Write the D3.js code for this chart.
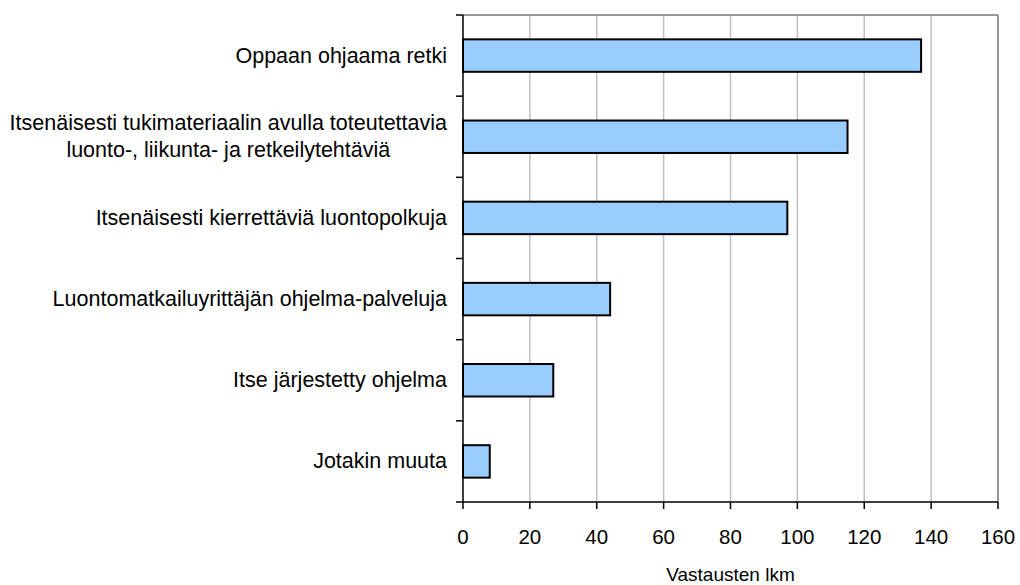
<!DOCTYPE html>
<html>
<head>
<meta charset="utf-8">
<script src="https://cdn.jsdelivr.net/npm/d3@7"></script>
<style>
	body { margin: 0; background: #fff; }
	svg text { font-family: "Liberation Sans", Arial, sans-serif; fill: #000; }
</style>
</head>
<body>
<svg id="chart" width="1020" height="585"></svg>
<script>
const categories = [
	['Oppaan ohjaama retki'],
	['Itsenäisesti tukimateriaalin avulla toteutettavia', 'luonto-, liikunta- ja retkeilytehtäviä'],
	['Itsenäisesti kierrettäviä luontopolkuja'],
	['Luontomatkailuyrittäjän ohjelma-palveluja'],
	['Itse järjestetty ohjelma'],
	['Jotakin muuta'],
]
const values = [137, 115, 97, 44, 27, 8]
const xTicks = [0, 20, 40, 60, 80, 100, 120, 140, 160]
const xTitle = 'Vastausten lkm'

const svg = d3.select('#chart')
const margin = { left: 463, right: 22, top: 15, bottom: 83 }
const width = 1020 - margin.left - margin.right
const height = 585 - margin.top - margin.bottom

const g = svg.append('g').attr('transform', `translate(${margin.left},${margin.top})`)

const x = d3.scaleLinear().domain([0, 160]).range([0, width])
const y = d3.scaleBand().domain(d3.range(categories.length)).range([0, height]).paddingInner(0.6).paddingOuter(0.3)
const yEdges = d3.scaleLinear().domain([0, categories.length]).range([0, height])

// gridlines
g.selectAll('.grid').data(xTicks.slice(1, -1))
	.enter().append('line')
	.attr('x1', d => x(d)).attr('x2', d => x(d))
	.attr('y1', 0).attr('y2', height)
	.attr('stroke', '#c0c0c0').attr('stroke-width', 1.5)

// frame top / right
g.append('line').attr('x1', 0).attr('x2', width).attr('y1', 0).attr('y2', 0)
	.attr('stroke', '#999').attr('stroke-width', 2)
g.append('line').attr('x1', width).attr('x2', width).attr('y1', 0).attr('y2', height)
	.attr('stroke', '#999').attr('stroke-width', 2)

// bars
g.selectAll('.bar').data(values)
	.enter().append('rect')
	.attr('x', 0)
	.attr('y', (d, i) => y(i))
	.attr('width', d => x(d))
	.attr('height', y.bandwidth())
	.attr('fill', '#99ccff')
	.attr('stroke', '#000')
	.attr('stroke-width', 2)

// y axis
g.append('line').attr('x1', 0).attr('x2', 0).attr('y1', 0).attr('y2', height)
	.attr('stroke', '#000').attr('stroke-width', 1.5)
g.selectAll('.ytick').data(d3.range(categories.length + 1))
	.enter().append('line')
	.attr('x1', -7).attr('x2', 0)
	.attr('y1', d => yEdges(d)).attr('y2', d => yEdges(d))
	.attr('stroke', '#000').attr('stroke-width', 1.5)

// x axis
g.append('line').attr('x1', 0).attr('x2', width).attr('y1', height).attr('y2', height)
	.attr('stroke', '#000').attr('stroke-width', 1.5)
g.selectAll('.xtick').data(xTicks)
	.enter().append('line')
	.attr('x1', d => x(d)).attr('x2', d => x(d))
	.attr('y1', height).attr('y2', height + 7)
	.attr('stroke', '#000').attr('stroke-width', 1.5)
g.selectAll('.xlabel').data(xTicks)
	.enter().append('text')
	.attr('x', d => x(d)).attr('y', height + 42)
	.attr('text-anchor', 'middle')
	.style('font-size', '20.5px')
	.text(d => d)

g.append('text')
	.attr('x', width / 2).attr('y', height + 79)
	.attr('text-anchor', 'middle')
	.style('font-size', '19px')
	.text(xTitle)

// category labels: block right-aligned, lines centered within block
const labels = g.selectAll('.cat').data(categories)
	.enter().append('text')
	.attr('text-anchor', 'middle')
	.style('font-size', '21.5px')
labels.selectAll('tspan').data(d => d.map((t, k) => ({ t, k, n: d.length })))
	.enter().append('tspan')
	.attr('x', 0)
	.attr('y', d => (d.k - (d.n - 1) / 2) * 27 + 7)
	.text(d => d.t)
labels.each(function(d, i) {
	const w = d3.max(d3.select(this).selectAll('tspan').nodes(), n => n.getComputedTextLength())
	const cy = y(i) + y.bandwidth() / 2
	d3.select(this).attr('transform', `translate(${-16 - w / 2},${cy})`)
})
</script>
</body>
</html>
